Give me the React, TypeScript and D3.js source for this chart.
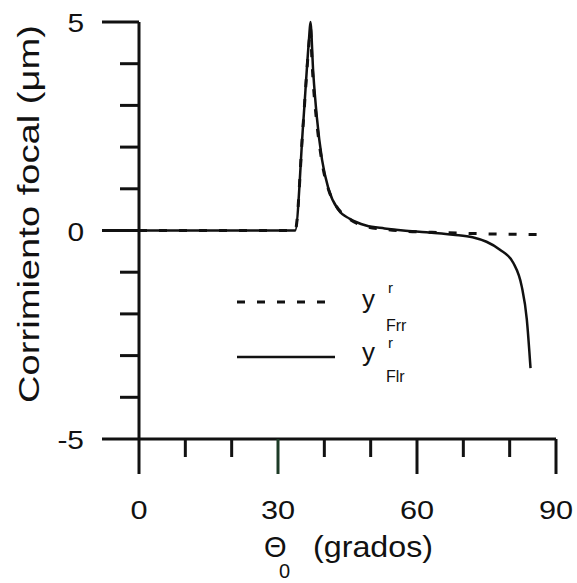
import React from "react";
import * as d3 from "d3";

// ---- data ----
const thetaSolid = [0, 10, 20, 30, 33.7, 35.4, 36.7, 37.0, 37.6, 38.4, 39.5, 40.9, 43.0, 45.5, 49.0, 53, 57, 62, 67.8, 72, 75, 77.9, 80.8, 82.6, 83.7, 84.5];
const valSolid = [0, 0, 0, 0, 0, 2.5, 4.6, 5.0, 3.8, 2.7, 1.7, 1.0, 0.5, 0.28, 0.12, 0.05, 0.0, -0.04, -0.1, -0.16, -0.27, -0.46, -0.78, -1.34, -2.13, -3.3];

const thetaDashed = [0, 30, 33.7, 35.4, 36.7, 37.0, 37.3, 37.6, 38.0, 38.5, 39.2, 39.8, 40.9, 42.5, 45.1, 48.8, 53, 58, 65, 75, 88];
const valDashed = [0, 0, 0, 2.5, 4.5, 4.85, 4.15, 3.55, 3.0, 2.45, 1.85, 1.45, 0.98, 0.6, 0.3, 0.1, 0.03, -0.02, -0.05, -0.08, -0.1];

const xMajorTicks = [0, 30, 60, 90];
const xMinorTicks = [10, 20, 40, 50, 70, 80];
const yMajorTicks = [5, 0, -5];
const yMinorTicks = [4, 3, 2, 1, -1, -2, -3, -4];

const FONT = "'Liberation Sans', Arial, Helvetica, sans-serif";

function StretchText({ x, y, sx, size, anchor, children }: any) {
  return (
    <g transform={`translate(${x},${y}) scale(${sx},1)`}>
      <text x={0} y={0} fontSize={size} textAnchor={anchor} fontFamily={FONT} fill="#111">
        {children}
      </text>
    </g>
  );
}

export default function App() {
  const W = 577;
  const H = 583;
  const x = d3.scaleLinear().domain([0, 90]).range([139, 556]);
  const y = d3.scaleLinear().domain([-5, 5]).range([439, 22]);

  const solidPts = thetaSolid.map((t, i) => [t, valSolid[i]] as [number, number]);
  const dashedPts = thetaDashed.map((t, i) => [t, valDashed[i]] as [number, number]);

  const line = d3
    .line<[number, number]>()
    .x((d) => x(d[0]))
    .y((d) => y(d[1]))
    .curve(d3.curveMonotoneX);

  const x0 = x(0);
  const yBase = y(-5);
  const ink = "#111";

  return (
    <svg
      width={W}
      height={H}
      style={{ position: "absolute", left: 0, top: 0, background: "#fff" }}
    >
      <rect x={0} y={0} width={W} height={H} fill="#fff" />
      {/* axes */}
      <line x1={x0} x2={x0} y1={y(5)} y2={yBase} stroke={ink} strokeWidth={3} />
      <line x1={x0} x2={x(90)} y1={yBase} y2={yBase} stroke={ink} strokeWidth={3} />
      {yMajorTicks.map((v) => (
        <line key={"ym" + v} x1={x0 - 37} x2={x0} y1={y(v)} y2={y(v)} stroke={ink} strokeWidth={3} />
      ))}
      {yMinorTicks.map((v) => (
        <line key={"yn" + v} x1={x0 - 19} x2={x0} y1={y(v)} y2={y(v)} stroke={ink} strokeWidth={3} />
      ))}
      {xMajorTicks.map((v) => (
        <line key={"xm" + v} x1={x(v)} x2={x(v)} y1={yBase} y2={yBase + 35} stroke={v === 30 ? "#1d3b26" : ink} strokeWidth={3} />
      ))}
      {xMinorTicks.map((v) => (
        <line key={"xn" + v} x1={x(v)} x2={x(v)} y1={yBase} y2={yBase + 18} stroke={ink} strokeWidth={3} />
      ))}
      {/* tick labels */}
      {yMajorTicks.map((v) => (
        <StretchText key={"yl" + v} x={84} y={y(v) + 10} sx={1.15} size={26} anchor="end">
          {String(v)}
        </StretchText>
      ))}
      {xMajorTicks.map((v) => (
        <StretchText key={"xl" + v} x={x(v)} y={519} sx={1.18} size={26} anchor="middle">
          {String(v)}
        </StretchText>
      ))}
      {/* axis titles */}
      <text
        transform={`translate(39,214) rotate(-90)`}
        fontSize={30}
        fontFamily={FONT}
        textAnchor="middle"
        textLength={378}
        lengthAdjust="spacingAndGlyphs"
        fill={ink}
      >
        Corrimiento focal (μm)
      </text>
      <text x={264} y={557} fontSize={29} fontFamily={FONT} fill={ink}>
        Θ
      </text>
      <text x={279} y={578} fontSize={20} fontFamily={FONT} fill={ink}>
        0
      </text>
      <text x={313} y={557} fontSize={30} fontFamily={FONT} fill={ink} textLength={120} lengthAdjust="spacingAndGlyphs">
        (grados)
      </text>
      {/* data */}
      <path d={line(solidPts) || ""} fill="none" stroke={ink} strokeWidth={2.5} strokeLinejoin="round" />
      <path d={line(dashedPts) || ""} fill="none" stroke={ink} strokeWidth={3} strokeDasharray="8 12" />
      {/* legend */}
      <line x1={237} x2={335} y1={302} y2={302} stroke={ink} strokeWidth={3} strokeDasharray="8 12" />
      <line x1={237} x2={335} y1={357} y2={357} stroke={ink} strokeWidth={2.5} />
      <text x={362} y={308} fontSize={26} fontFamily={FONT} fill={ink}>y</text>
      <text x={388} y={293} fontSize={15} fontFamily={FONT} fill={ink}>r</text>
      <text x={386} y={331} fontSize={16} fontFamily={FONT} fill={ink}>Frr</text>
      <text x={362} y={361} fontSize={26} fontFamily={FONT} fill={ink}>y</text>
      <text x={388} y={348} fontSize={15} fontFamily={FONT} fill={ink}>r</text>
      <text x={386} y={382} fontSize={16} fontFamily={FONT} fill={ink}>Flr</text>
    </svg>
  );
}
